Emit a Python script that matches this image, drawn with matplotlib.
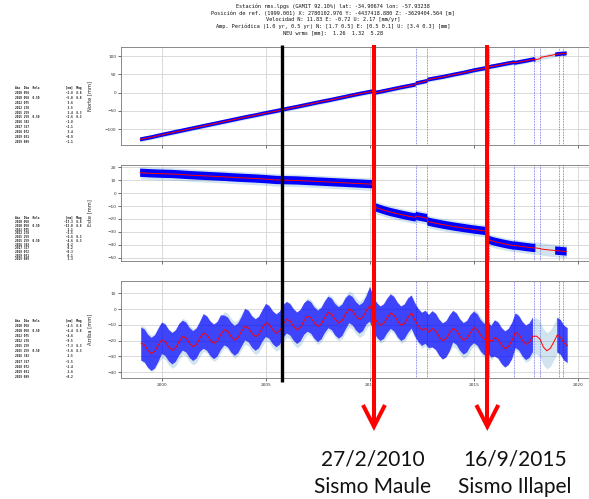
import numpy as np
import matplotlib
matplotlib.use("Agg")
import matplotlib.pyplot as plt
from matplotlib.lines import Line2D

# ---------------- data ----------------
title_lines = [
    "Estación rms.lpgs (GAMIT 92.10%) lat: -34.90674 lon: -57.93238",
    "Posición de ref. (1999.001) X: 2780102.976 Y: -4437418.880 Z: -3629404.564 [m]",
    "Velocidad N: 11.83 E: -0.72 U: 2.17 [mm/yr]",
    "Amp. Periódica (1.0 yr, 0.5 yr) N: [1.7 0.5] E: [0.5 0.1] U: [3.4 0.3] [mm]",
    "NEU wrms [mm]:  1.26  1.32  5.28",
]

# Jump table (year, day of year, relaxation, magnitude)
jump_year = [2010, 2010, 2012, 2012, 2015, 2015, 2016, 2017, 2018, 2019, 2019]
jump_doy = [58, 58, 75, 278, 259, 259, 343, 327, 72, 31, 99]
jump_relx = ["", "0.50", "", "", "", "0.50", "", "", "", "", ""]
jump_mag = ["8.8", "8.8", "", "", "8.3", "8.3", "", "", "", "", ""]
jump_n = [-2.8, -5.0, 3.6, 3.5, 1.4, -2.6, -1.8, -2.1, 3.4, -0.9, -1.1]
jump_e = [-17.3, -13.0, 1.1, -2.5, -6.6, -4.6, 0.2, 0.2, -0.3, 0.1, 1.3]
jump_u = [-4.5, -6.4, -4.6, -9.5, -7.3, -3.6, 2.5, -5.5, -2.4, 2.6, -0.2]
jump_dates = [2010.156, 2012.202, 2012.760, 2015.708, 2016.937,
              2017.893, 2018.194, 2019.082, 2019.268]

# North model (year, mm)
north_model = [
    (1998.95, -127.5), (1999.5, -121.5), (2000.0, -115), (2000.5, -109),
    (2001.0, -103), (2001.5, -97), (2002.0, -91), (2002.5, -85),
    (2003.0, -79), (2003.5, -73), (2004.0, -67), (2004.5, -61.5),
    (2005.0, -55.5), (2005.5, -50), (2006.0, -44), (2006.5, -38.5),
    (2007.0, -32.5), (2007.5, -26.5), (2008.0, -21), (2008.5, -15),
    (2009.0, -9), (2009.5, -3), (2010.15, 4), (2010.16, -1),
    (2010.5, 2.5), (2011.0, 8.5), (2011.5, 14.5), (2012.19, 22),
    (2012.2, 25.5), (2012.5, 29), (2012.75, 32), (2012.76, 35.5),
    (2013.0, 38), (2013.5, 43), (2014.0, 49), (2014.5, 54.5),
    (2015.0, 61), (2015.7, 68.5), (2015.71, 70), (2016.0, 73),
    (2016.5, 78.5), (2016.93, 83), (2016.94, 81.2), (2017.5, 87),
    (2017.89, 91.5), (2017.9, 89.4), (2017.95, 90), (2018.19, 92.8),
    (2018.2, 96.2), (2018.5, 99.5), (2018.9, 104), (2019.0, 105),
    (2019.08, 106), (2019.09, 105.1), (2019.26, 107), (2019.27, 105.9),
    (2019.45, 107.5),
]

# East model (year, mm)
east_model = [
    (1998.95, 15.8), (1999.5, 15.3), (2000.0, 15.0), (2000.5, 14.8),
    (2001.0, 14.3), (2001.5, 13.8), (2002.0, 13.4), (2002.5, 13.0),
    (2003.0, 12.6), (2003.5, 12.1), (2004.0, 11.7), (2004.5, 11.3),
    (2005.0, 10.8), (2005.5, 10.2), (2006.0, 10.0), (2006.5, 9.8),
    (2007.0, 9.4), (2007.5, 9.0), (2008.0, 8.6), (2008.5, 8.2),
    (2009.0, 7.8), (2009.5, 7.4), (2010.15, 6.9), (2010.16, -10.4),
    (2010.3, -11.2), (2010.5, -12.3), (2010.75, -13.6), (2011.0, -14.7),
    (2011.5, -16.6), (2012.0, -18.3), (2012.19, -18.8), (2012.2, -17.7),
    (2012.5, -18.6), (2012.75, -19.4), (2012.76, -21.9), (2013.0, -22.8),
    (2013.5, -24.4), (2014.0, -25.8), (2014.5, -27.0), (2015.0, -28.2),
    (2015.7, -29.6), (2015.71, -36.2), (2016.0, -37.6), (2016.5, -39.4),
    (2016.93, -40.7), (2016.94, -40.5), (2017.5, -41.7), (2017.89, -42.5),
    (2017.9, -42.3), (2017.95, -42.4), (2018.19, -42.9), (2018.2, -43.2),
    (2018.5, -43.8), (2018.9, -44.4), (2019.0, -44.6), (2019.45, -45.2),
]

# Up model, six samples per year starting 1999.0
up_model = [
    -21.7, -22.9, -26.3, -28.3, -26.7, -22.5,   # 1999
    -19.6, -20.8, -24.2, -26.2, -24.5, -20.4,   # 2000
    -17.4, -18.6, -22.0, -24.0, -22.4, -18.2,   # 2001
    -15.2, -16.5, -19.8, -21.8, -20.2, -16.0,   # 2002
    -13.1, -14.3, -17.6, -19.7, -18.0, -13.9,   # 2003
    -10.9, -12.1, -15.5, -17.5, -15.9, -11.7,   # 2004
    -8.7, -10.0, -13.3, -15.3, -13.7, -9.5,     # 2005
    -6.5, -7.8, -11.1, -13.2, -11.5, -7.4,      # 2006
    -4.4, -5.6, -8.9, -11.0, -9.3, -5.2,        # 2007
    -2.2, -3.4, -6.8, -8.8, -7.2, -3.0,         # 2008
    0.0, -1.3, -4.6, -6.6, -5.0, -0.8,          # 2009
    2.1, -3.8, -8.0, -10.3, -9.0, -5.3,         # 2010
    -2.6, -4.2, -7.9, -10.3, -9.0, -5.2,        # 2011
    -2.4, -7.3, -11.0, -13.4, -12.1, -14.8,     # 2012
    -12.4, -14.0, -17.7, -20.1, -18.8, -15.0,   # 2013
    -12.2, -13.8, -17.5, -19.9, -18.6, -14.8,   # 2014
    -11.7, -13.3, -17.0, -19.4, -18.1, -20.8,   # 2015
    -18.2, -19.5, -23.0, -25.2, -23.6, -19.8,   # 2016
    -14.7, -16.3, -20.0, -22.4, -21.1, -17.3,   # 2017
    -17.2, -19.0, -24.1, -26.5, -25.0, -21.0,   # 2018
    -16.5, -18.0, -21.6, -23.2,                 # 2019
]
# Up data cloud extent above / below the model, per year 1999..2019 (mm)
up_cloud_above = [10, 11, 10, 12, 9, 11, 12, 11, 10, 10, 9, 12, 12, 11, 11, 11, 10, 11, 12, 10, 11]
up_cloud_below = [11, 9, 9, 10, 10, 9, 9, 9, 10, 10, 9, 10, 10, 10, 12, 9, 10, 12, 10, 10, 11]

north_cloud = 5.5   # half thickness of the north data band (mm)
east_cloud = 3.2
band_halfwidth = [6.5, 4.8, 11.5]   # model confidence band (mm)
data_gap = (2017.95, 2018.9)

marker_black_year = 2005.76
quake_years = [2010.19, 2015.64]
quake_dates = ["27/2/2010", "16/9/2015"]
quake_names = ["Sismo Maule", "Sismo Illapel"]
quake_text_x = [372.5, 515.0]   # pixel centres of the captions

# ---------------- layout ----------------
W, H = 589, 499
fig = plt.figure(figsize=(W / 100, H / 100), dpi=100)
fig.patch.set_facecolor("white")


def rect(left, top, right, bottom):
    return [left / W, 1 - bottom / H, (right - left) / W, (bottom - top) / H]


ax1 = fig.add_axes(rect(121, 47, 590.5, 145))
ax2 = fig.add_axes(rect(121, 164.7, 590.5, 260.7))
ax3 = fig.add_axes(rect(121, 281, 590.5, 377.7))
axes = [ax1, ax2, ax3]

xlim = (1998.03, 2020.60)
ylims = [(-142.8, 124.6), (-52.3, 22.0), (-43.6, 17.8)]
yticks = [[-100, -50, 0, 50, 100], list(range(-50, 21, 10)), list(range(-40, 11, 10))]
ylabels = ["Norte [mm]", "Este [mm]", "Arriba [mm]"]

band_col = "#1f77b4"

tn = np.array([p[0] for p in north_model])
vn = np.array([p[1] for p in north_model])
te = np.array([p[0] for p in east_model])
ve = np.array([p[1] for p in east_model])
vu = np.array(up_model)
tu = 1999.0 + np.arange(len(vu)) / 6.0
yr_idx = np.floor(tu - 1999.0 + 1e-9).astype(int)
up_hi = vu + np.array(up_cloud_above)[yr_idx]
up_lo = vu - np.array(up_cloud_below)[yr_idx]


def gapmask(t):
    return (t > data_gap[0] + 1e-6) & (t < data_gap[1] - 1e-6)


series = [(tn, vn, north_cloud), (te, ve, east_cloud)]

for i, ax in enumerate(axes):
    ax.set_xlim(*xlim)
    ax.set_ylim(*ylims[i])
    ax.set_yticks(yticks[i])
    ax.set_xticks([2000, 2005, 2010, 2015, 2020])
    ax.grid(True, color="#d4d4d4", lw=0.6, zorder=0)
    ax.set_axisbelow(True)
    for s in ax.spines.values():
        s.set_color("#777777")
        s.set_linewidth(0.6)
    ax.tick_params(labelsize=3.1, colors="#333333", length=2.5, width=0.5, pad=1.0)
    ax.set_ylabel(ylabels[i], fontsize=3.7, color="#222222")
    ax.yaxis.set_label_coords((92.5 - 121) / 469.5, 0.5)
    if i < 2:
        ax.tick_params(labelbottom=False)
    for d in jump_dates:
        ax.axvline(d, color="#3030dd", ls=(0, (1, 1.3)), lw=0.5, zorder=1.5)

    if i < 2:
        t, v, sp = series[i]
        bw = band_halfwidth[i]
        ax.fill_between(t, v - bw, v + bw, color=band_col, alpha=0.2, lw=0, zorder=2)
        m = gapmask(t)
        hi = np.where(m, np.nan, v + sp)
        lo = np.where(m, np.nan, v - sp)
        ax.fill_between(t, lo, hi, color="#0000ff", lw=0, zorder=3)
        ax.plot(t, v, color="red", lw=0.7, zorder=4)
    else:
        bw = band_halfwidth[2]
        ax.fill_between(tu, vu - bw, vu + bw, color=band_col, alpha=0.2, lw=0, zorder=2)
        m = gapmask(tu)
        hi = np.where(m, np.nan, up_hi)
        lo = np.where(m, np.nan, up_lo)
        ax.fill_between(tu, lo, hi, color="#0000ff", alpha=0.7, lw=0, zorder=3)
        ax.plot(tu, vu, color="red", lw=0.7, zorder=4)

# ---------------- title ----------------
for k, line in enumerate(title_lines):
    fig.text(333 / W, 1 - (6.2 + 6.65 * k) / H, line, ha="center", va="center",
             fontsize=3.76, family="DejaVu Sans Mono", color="#111111")

# ---------------- jump tables ----------------
header = "Año  Día  Relx" + " " * 15 + "[mm]" + "  " + "Mag"
table_vals = [jump_n, jump_e, jump_u]
table_top = [88.3, 218.3, 321.0]
table_bot = [141.7, 259.5, 376.7]
for i in range(3):
    rows = [header]
    for j in range(len(jump_year)):
        left = f"{jump_year[j]:4d} {jump_doy[j]:03d}  {jump_relx[j]:4s}".ljust(28)
        rows.append(left + f"{table_vals[i][j]:5.1f}" + "  " + f"{jump_mag[j]:>3s}")
    step = (table_bot[i] - table_top[i]) / (len(rows) - 1)
    for r, txt in enumerate(rows):
        fig.text(15 / W, 1 - (table_top[i] + r * step) / H, txt, ha="left", va="center",
                 fontsize=2.2, family="DejaVu Sans Mono", fontweight="bold", color="#1a1a1a")

# ---------------- overlay annotation ----------------
fig.canvas.draw()


def year_px(year):
    return ax3.transData.transform((year, 0))[0]


def add_line(xs_px, ys_px, color, lw, **kw):
    fig.add_artist(Line2D([x / W for x in xs_px], [1 - y / H for y in ys_px],
                          transform=fig.transFigure, color=color, lw=lw, **kw))


xb = year_px(marker_black_year)
add_line([xb, xb], [45, 382], "black", 2.4, solid_capstyle="butt")

for k, yq in enumerate(quake_years):
    xq = year_px(yq)
    add_line([xq, xq], [45, 424], "#ff0000", 2.9, solid_capstyle="butt")
    add_line([xq - 11, xq, xq + 11], [405, 426.5, 405], "#ff0000", 2.9,
             solid_joinstyle="miter", solid_capstyle="butt")
    fig.text(quake_text_x[k] / W, 1 - 465 / H, quake_dates[k], ha="center", va="baseline",
             fontsize=15, family="Lato", color="#111111")
    fig.text(quake_text_x[k] / W, 1 - 493 / H, quake_names[k], ha="center", va="baseline",
             fontsize=15, family="Lato", color="#111111")

fig.savefig("out.png", dpi=100)
